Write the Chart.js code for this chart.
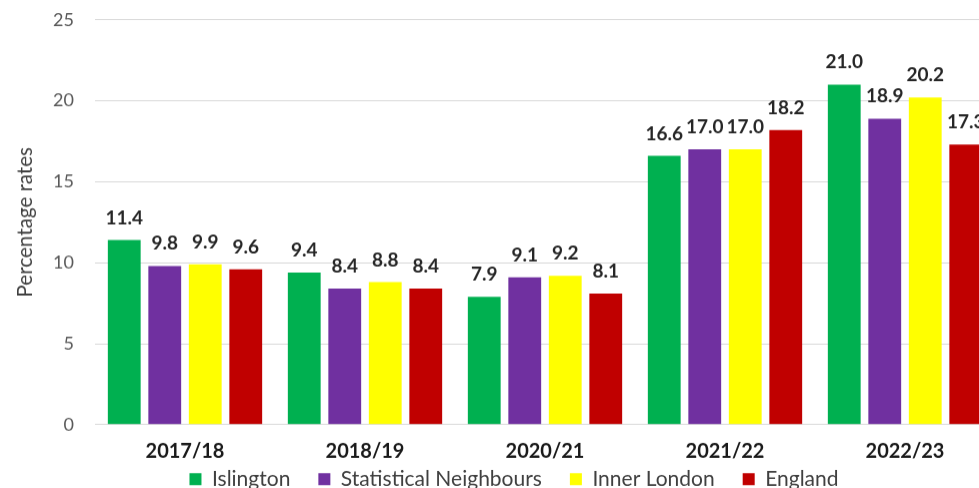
<!DOCTYPE html>
<html>
<head>
<meta charset="utf-8">
<script src="https://cdn.jsdelivr.net/npm/chart.js@4"></script>
<style>
  html, body { margin: 0; padding: 0; background: #fff; overflow: hidden; }
  #wrap { position: relative; width: 1028px; height: 524px; }
</style>
</head>
<body>
<div id="wrap"><canvas id="barChart"></canvas></div>
<script>
// categories and series
const years = ['2017/18', '2018/19', '2020/21', '2021/22', '2022/23'];
const islington = [11.4, 9.4, 7.9, 16.6, 21.0];
const statNeighbours = [9.8, 8.4, 9.1, 17.0, 18.9];
const innerLondon = [9.9, 8.8, 9.2, 17.0, 20.2];
const england = [9.6, 8.4, 8.1, 18.2, 17.3];
const yTicks = [0, 5, 10, 15, 20, 25];

const FONT = 'Lato, "Open Sans", sans-serif';

// draws the value above each bar
const valueLabels = {
  id: 'valueLabels',
  afterDatasetsDraw(chart) {
    const ctx = chart.ctx;
    ctx.save();
    ctx.font = 'bold 19px ' + FONT;
    ctx.fillStyle = '#262626';
    ctx.textAlign = 'center';
    ctx.textBaseline = 'alphabetic';
    chart.data.datasets.forEach((ds, i) => {
      chart.getDatasetMeta(i).data.forEach((bar, j) => {
        ctx.fillText(ds.data[j].toFixed(1), bar.x, bar.y - 16);
      });
    });
    ctx.restore();
  }
};

// pull the legend up, close under the year labels
const legendUp = {
  id: 'legendUp',
  afterLayout(chart) {
    const lg = chart.legend;
    const h = lg.bottom - lg.top;
    lg.top = chart.chartArea.bottom + 16;
    lg.bottom = lg.top + h;
  }
};

const ctx = document.getElementById('barChart').getContext('2d');
const chart = new Chart(ctx, {
  type: 'bar',
  data: {
    labels: years,
    datasets: [
      { label: 'Islington', data: islington, backgroundColor: '#00B050' },
      { label: 'Statistical Neighbours', data: statNeighbours, backgroundColor: '#7030A0' },
      { label: 'Inner London', data: innerLondon, backgroundColor: '#FFFF00' },
      { label: 'England', data: england, backgroundColor: '#C00000' }
    ]
  },
  options: {
    responsive: true,
    maintainAspectRatio: false,
    animation: false,
    layout: { padding: 0 },
    datasets: {
      bar: { categoryPercentage: 0.9, barPercentage: 0.81 }
    },
    scales: {
      x: {
        grid: { display: false, drawTicks: false },
        border: { color: '#d9d9d9', width: 1 },
        ticks: { color: '#1a1a1a', font: { family: FONT, size: 20, weight: 'bold' }, padding: 15 }
      },
      y: {
        min: 0,
        max: 25,
        afterFit(scale) { scale.width = 95; },
        afterBuildTicks(scale) { scale.ticks = yTicks.map(v => ({ value: v })); },
        grid: { color: '#d9d9d9', drawTicks: false },
        border: { display: false },
        ticks: { color: '#595959', font: { family: FONT, size: 18 }, padding: 21 },
        title: {
          display: true,
          text: 'Percentage rates',
          color: '#404040',
          font: { family: FONT, size: 20.5 },
          padding: { top: 13, bottom: 0 }
        }
      },
      // empty axis on the right, only to keep the legend centred like the original
      yRight: {
        position: 'right',
        display: true,
        afterFit(scale) { scale.width = 33; },
        grid: { display: false, drawTicks: false },
        border: { display: false },
        ticks: { display: false }
      }
    },
    plugins: {
      legend: {
        position: 'bottom',
        labels: {
          color: '#404040',
          font: { family: FONT, size: 21 },
          boxWidth: 12,
          boxHeight: 12,
          padding: 28
        }
      },
      tooltip: { enabled: false }
    }
  },
  plugins: [valueLabels, legendUp]
});

// the original is cropped: plot area spans y 20..424 of the window
const wrap = document.getElementById('wrap');
const area = chart.chartArea;
wrap.style.height = (wrap.offsetHeight + 404 - (area.bottom - area.top)) + 'px';
chart.resize();
wrap.style.marginTop = (20 - chart.chartArea.top) + 'px';
</script>
</body>
</html>
